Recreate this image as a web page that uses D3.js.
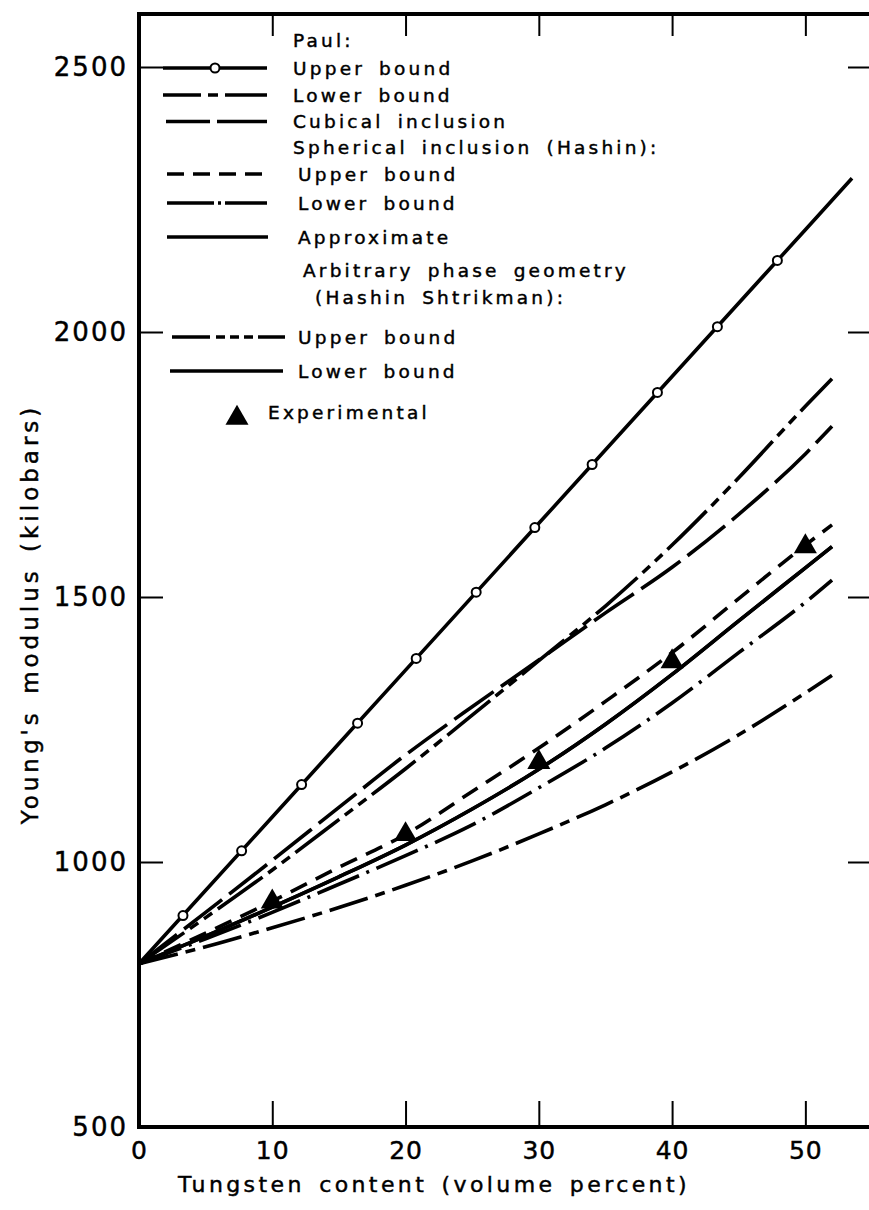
<!DOCTYPE html>
<html><head><meta charset="utf-8">
<script src="https://cdn.jsdelivr.net/npm/d3@7"></script>
<style>
body{margin:0;background:#fff}
svg{display:block}
text{font-family:"DejaVu Sans",sans-serif;fill:#000;stroke:#000;stroke-width:0.45px}
</style>
</head><body>
<svg id="c" width="869" height="1210"></svg>
<script>
// ---------- data ----------
const xTicks = [0, 10, 20, 30, 40, 50];
const yTicks = [500, 1000, 1500, 2000, 2500];
const pct = [0, 5, 10, 15, 20, 25, 30, 35, 40, 45, 50, 52];

const paulUpperX = [0, 10, 20, 30, 40, 50, 53.5];
const paulUpper  = [808, 1085, 1362, 1639, 1916, 2193, 2290];
const paulCircleX = [3.3, 7.7, 12.2, 16.4, 20.8, 25.3, 29.7, 34.0, 38.9, 43.4, 47.9];
const paulCircleY = [899, 1021, 1146, 1262, 1384, 1509, 1631, 1750, 1886, 2010, 2135];

const paulLower   = [808, 840, 876, 914, 956, 1002, 1053, 1108, 1170, 1240, 1319, 1352];
const cubical     = [808, 905, 1003, 1103, 1202, 1293, 1381, 1470, 1556, 1656, 1770, 1822];
const sphUpper    = [808, 866, 926, 990, 1052, 1133, 1215, 1303, 1395, 1497, 1598, 1636];
const sphLower    = [808, 855, 905, 958, 1012, 1070, 1140, 1215, 1300, 1395, 1490, 1532];
const approximate = [808, 860, 915, 972, 1032, 1100, 1175, 1260, 1354, 1455, 1555, 1595];
const hsUpper     = [808, 895, 985, 1080, 1176, 1277, 1380, 1483, 1598, 1725, 1860, 1912];
const hsLower     = [808, 860, 915, 972, 1032, 1100, 1175, 1260, 1354, 1455, 1555, 1595];

const expX = [10, 20, 30, 40, 50];
const expY = [925, 1052, 1188, 1378, 1595];

const xTitle = "Tungsten content (volume percent)";
const yTitle = "Young's modulus (kilobars)";

// ---------- scales ----------
const svg = d3.select("#c");
const x = d3.scaleLinear().domain([0, 55]).range([139, 872]);
const y = d3.scaleLinear().domain([500, 2600]).range([1127, 14]);

function styleAxis(g, showText) {
  g.select(".domain").remove();
  g.selectAll(".tick line").attr("stroke", "#000").attr("stroke-width", 2);
  if (!showText) g.selectAll(".tick text").remove();
}

// bottom
const gB = svg.append("g").attr("transform", `translate(0,${y(500)})`)
  .call(d3.axisBottom(x).tickValues(xTicks).tickSize(-26).tickPadding(14).tickFormat(d3.format("d")));
styleAxis(gB, true);
gB.selectAll(".tick text").attr("font-size", 25).attr("letter-spacing", 1).attr("fill", "#000");
gB.selectAll(".tick").filter(d => d === 0).select("line").remove();

// left
const gL = svg.append("g").attr("transform", `translate(${x(0)},0)`)
  .call(d3.axisLeft(y).tickValues(yTicks).tickSize(-24).tickPadding(11).tickFormat(d3.format("d")));
styleAxis(gL, true);
gL.selectAll(".tick text").attr("font-size", 26).attr("letter-spacing", 2).attr("fill", "#000");
gL.selectAll(".tick").filter(d => d === 500).select("line").remove();

// right (ticks only)
const gR = svg.append("g").attr("transform", `translate(${x(55)},0)`)
  .call(d3.axisRight(y).tickValues(yTicks.filter(d => d > 500)).tickSize(-24));
styleAxis(gR, false);

// top (ticks only)
const gT = svg.append("g").attr("transform", `translate(0,${y(2600)})`)
  .call(d3.axisTop(x).tickValues(xTicks.filter(d => d > 0)).tickSize(-22));
styleAxis(gT, false);

// frame
const frame = svg.append("g").attr("stroke", "#000").attr("stroke-width", 4).attr("fill", "none");
frame.append("line").attr("x1", x(0)).attr("x2", x(0)).attr("y1", y(2600) - 2).attr("y2", y(500) + 2);
frame.append("line").attr("x1", x(0) - 2).attr("x2", x(55)).attr("y1", y(500)).attr("y2", y(500));
frame.append("line").attr("x1", x(0) - 2).attr("x2", x(55)).attr("y1", y(2600)).attr("y2", y(2600));

// axis titles
svg.append("text").attr("x", 434).attr("y", 1184)
  .attr("text-anchor", "middle").attr("dominant-baseline", "central")
  .attr("font-size", 22).attr("letter-spacing", 3.4).attr("word-spacing", 4).text(xTitle);
svg.append("text").attr("transform", "translate(30,614) rotate(-90)")
  .attr("text-anchor", "middle").attr("dominant-baseline", "central")
  .attr("font-size", 23).attr("letter-spacing", 4).attr("word-spacing", 4).text(yTitle);

// ---------- curves ----------
const styles = {
  paulUpper: null,
  paulLower: "40 8 10 8",
  cubical: "48 9",
  sphUpper: "18 10",
  sphLower: "45 8 3 8",
  approximate: null,
  hsUpper: "55 7 10 7 10 7",
  hsLower: null
};
const seriesList = [
  {key: "paulUpper", xs: paulUpperX, ys: paulUpper},
  {key: "paulLower", xs: pct, ys: paulLower},
  {key: "cubical", xs: pct, ys: cubical},
  {key: "sphUpper", xs: pct, ys: sphUpper},
  {key: "sphLower", xs: pct, ys: sphLower},
  {key: "approximate", xs: pct, ys: approximate},
  {key: "hsUpper", xs: pct, ys: hsUpper},
  {key: "hsLower", xs: pct, ys: hsLower}
];
const line = d3.line().x(d => x(d[0])).y(d => y(d[1])).curve(d3.curveMonotoneX);
svg.append("g").selectAll("path").data(seriesList).join("path")
  .attr("d", s => line(s.xs.map((v, i) => [v, s.ys[i]])))
  .attr("fill", "none").attr("stroke", "#000").attr("stroke-width", 3.6)
  .attr("stroke-dasharray", s => styles[s.key]);

// circles on Paul upper bound
svg.append("g").selectAll("circle").data(paulCircleX).join("circle")
  .attr("cx", d => x(d)).attr("cy", (d, i) => y(paulCircleY[i])).attr("r", 4.5)
  .attr("fill", "#fff").attr("stroke", "#000").attr("stroke-width", 2);

// experimental triangles
const tri = d3.symbol(d3.symbolTriangle, 230);
svg.append("g").selectAll("path").data(expX).join("path")
  .attr("d", tri).attr("transform", (d, i) => `translate(${x(d)},${y(expY[i])})`)
  .attr("fill", "#000");

// ---------- legend ----------
const leg = svg.append("g");
const rowsText = [
  {t: "Paul:", tx: 293, y: 40},
  {t: "Upper bound", tx: 293, y: 68, key: "paulUpper", x1: 163, x2: 267, dash: null, circle: true},
  {t: "Lower bound", tx: 293, y: 95, key: "paulLower", x1: 163, x2: 267, dash: "38 7 10 7 44"},
  {t: "Cubical inclusion", tx: 293, y: 121.5, key: "cubical", x1: 166, x2: 267, dash: "44 7 50"},
  {t: "Spherical inclusion (Hashin):", tx: 293, y: 147},
  {t: "Upper bound", tx: 298, y: 174, key: "sphUpper", x1: 167, x2: 267, dash: "17 9"},
  {t: "Lower bound", tx: 298, y: 203, key: "sphLower", x1: 167, x2: 267, dash: "47 4 3 4 42"},
  {t: "Approximate", tx: 298, y: 237, key: "approximate", x1: 167, x2: 268, dash: null},
  {t: "Arbitrary phase geometry", tx: 303, y: 270},
  {t: "(Hashin Shtrikman):", tx: 315, y: 297},
  {t: "Upper bound", tx: 298, y: 337, key: "hsUpper", x1: 172, x2: 285, dash: "38 6 9 5 9 5 9 5 40"},
  {t: "Lower bound", tx: 298, y: 371, key: "hsLower", x1: 170, x2: 283, dash: null}
];
leg.selectAll("text.row").data(rowsText).join("text").attr("class", "row")
  .attr("x", d => d.tx).attr("y", d => d.y)
  .attr("dominant-baseline", "central").attr("font-size", 18.5)
  .attr("letter-spacing", 3.2).attr("word-spacing", 5).text(d => d.t);
leg.selectAll("line.row").data(rowsText.filter(d => d.key)).join("line").attr("class", "row")
  .attr("x1", d => d.x1).attr("x2", d => d.x2).attr("y1", d => d.y).attr("y2", d => d.y)
  .attr("stroke", "#000").attr("stroke-width", 3.5).attr("stroke-dasharray", d => d.dash);
leg.selectAll("circle").data(rowsText.filter(d => d.circle)).join("circle")
  .attr("cx", 215).attr("cy", d => d.y).attr("r", 4.5)
  .attr("fill", "#fff").attr("stroke", "#000").attr("stroke-width", 2);
leg.append("path").attr("d", tri).attr("transform", "translate(237,418)").attr("fill", "#000");
leg.append("text").attr("x", 268).attr("y", 412).attr("dominant-baseline", "central")
  .attr("font-size", 18.5).attr("letter-spacing", 3.2).text("Experimental");
</script>
</body></html>
